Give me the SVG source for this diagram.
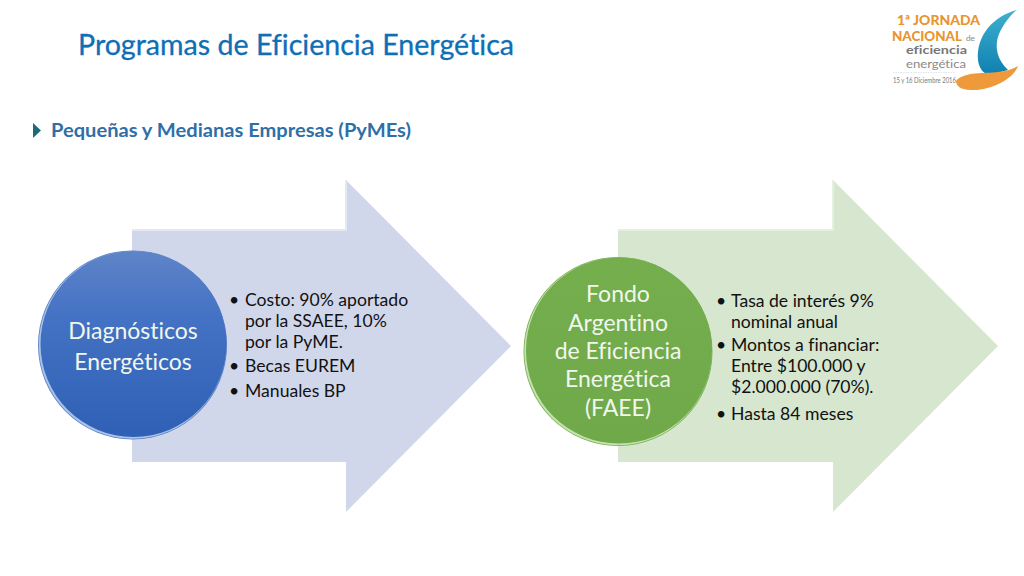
<svg xmlns="http://www.w3.org/2000/svg" width="1024" height="576" viewBox="0 0 1024 576">
<defs>
<linearGradient id="gb" x1="0" y1="0" x2="0" y2="1"><stop offset="0" stop-color="#5f84c8"/><stop offset="0.35" stop-color="#4472c4"/><stop offset="1" stop-color="#2f60b5"/></linearGradient>
<linearGradient id="gg" x1="0" y1="0" x2="0" y2="1"><stop offset="0" stop-color="#74ae4d"/><stop offset="1" stop-color="#6fa94a"/></linearGradient>
<linearGradient id="drop" x1="0" y1="0" x2="0" y2="1"><stop offset="0" stop-color="#3fb0d0"/><stop offset="1" stop-color="#0f7fb0"/></linearGradient>
</defs>
<style>
text{font-family:"Lato","Open Sans","Liberation Sans",sans-serif;font-variant-ligatures:none}
.body{font-size:17.6px;fill:#111}
.head{font-size:23px;fill:#f1f7ed;text-anchor:middle}
</style>
<rect width="1024" height="576" fill="#fff"/>
<g id="title">
<text x="78" y="55" font-size="28.5" fill="#0f6fb5" stroke="#0f6fb5" stroke-width="0.3" textLength="436" lengthAdjust="spacingAndGlyphs">Programas de Eficiencia Energética</text>
</g>
<g id="subtitle">
<path d="M33 123 L41 130.500 L33 138Z" fill="#1f6a78"/>
<text x="51" y="137" font-size="19.500" font-weight="700" fill="#2f6fa8" textLength="360" lengthAdjust="spacingAndGlyphs">Pequeñas y Medianas Empresas (PyMEs)</text>
</g>
<g id="logo">
<path d="M1017 10 C993 16 976 36 978 60 C979 68 983 74 990 75 L1008 70 C997 60 994 46 999 34 C1003 25 1010 15 1017 10Z" fill="url(#drop)"/>
<path d="M956 81 C964 71 985 74 998 72 C1007 71 1013 69 1018 66 C1014 79 990 91 971 90 C961 90 956 86 956 81Z" fill="#ee9a3a"/>
<text x="897" y="25" font-size="13.500" font-weight="900" fill="#e8952e" textLength="83" lengthAdjust="spacingAndGlyphs">1ª JORNADA</text>
<text x="892" y="41" font-size="13.500" font-weight="900" fill="#e8952e" textLength="70" lengthAdjust="spacingAndGlyphs">NACIONAL</text>
<text x="966" y="41" font-size="8" fill="#8a8a8a" textLength="9" lengthAdjust="spacingAndGlyphs">de</text>
<text x="906" y="54" font-size="11.200" font-weight="700" fill="#777" textLength="61" lengthAdjust="spacingAndGlyphs">eficiencia</text>
<text x="906" y="67.500" font-size="11.200" fill="#8a8a8a" textLength="60" lengthAdjust="spacingAndGlyphs">energética</text>
<line x1="893" y1="72.500" x2="955" y2="72.500" stroke="#cfdbe3" stroke-width="0.700" stroke-dasharray="1.500 1"/>
<text x="893" y="83" font-size="8" fill="#777" textLength="63" lengthAdjust="spacingAndGlyphs">15 y 16 Diciembre 2016</text>
</g>
<g id="connectors"></g>
<g id="arrow-1">
<path d="M132 229 H346 V180 L511 346 L346 512 V462 H132Z" fill="#d1d7eb"/>
<path d="M132 230 H346 V180" fill="none" stroke="#e4e8f3" stroke-width="2"/>
<text class="body" x="229" y="306">•</text><text class="body" x="245" y="306">Costo: 90% aportado</text>
<text class="body" x="245" y="327">por la SSAEE, 10%</text>
<text class="body" x="245" y="348">por la PyME.</text>
<text class="body" x="229" y="372">•</text><text class="body" x="245" y="372">Becas EUREM</text>
<text class="body" x="229" y="397">•</text><text class="body" x="245" y="397">Manuales BP</text>
</g>
<g id="node-diagnosticos">
<circle cx="132.500" cy="345" r="94.500" fill="#5a80c4"/>
<circle cx="132.500" cy="345" r="93.700" fill="#a9c3e8"/>
<circle cx="133.500" cy="344" r="93" fill="url(#gb)"/>
<text class="head" x="133" y="339">Diagnósticos</text>
<text class="head" x="133" y="370">Energéticos</text>
</g>
<g id="arrow-2">
<path d="M618 229 H833 V180 L998 346 L833 512 V462 H618Z" fill="#d6e6cf"/>
<path d="M618 230 H833 V180" fill="none" stroke="#e6f0e1" stroke-width="2"/>
<text class="body" x="716" y="307">•</text><text class="body" x="731" y="307">Tasa de interés 9%</text>
<text class="body" x="731" y="328">nominal anual</text>
<text class="body" x="716" y="351">•</text><text class="body" x="731" y="351">Montos a financiar:</text>
<text class="body" x="731" y="372">Entre $100.000 y</text>
<text class="body" x="731" y="393">$2.000.000 (70%).</text>
<text class="body" x="716" y="420">•</text><text class="body" x="731" y="420">Hasta 84 meses</text>
</g>
<g id="node-faee">
<circle cx="618" cy="351.500" r="94.500" fill="#78b050"/>
<circle cx="618" cy="351.500" r="93.700" fill="#c4e2b0"/>
<circle cx="619" cy="350.500" r="93" fill="url(#gg)"/>
<text class="head" x="618" y="302">Fondo</text>
<text class="head" x="618" y="331">Argentino</text>
<text class="head" x="618" y="359">de Eficiencia</text>
<text class="head" x="618" y="387">Energética</text>
<text class="head" x="618" y="416">(FAEE)</text>
</g>
</svg>
